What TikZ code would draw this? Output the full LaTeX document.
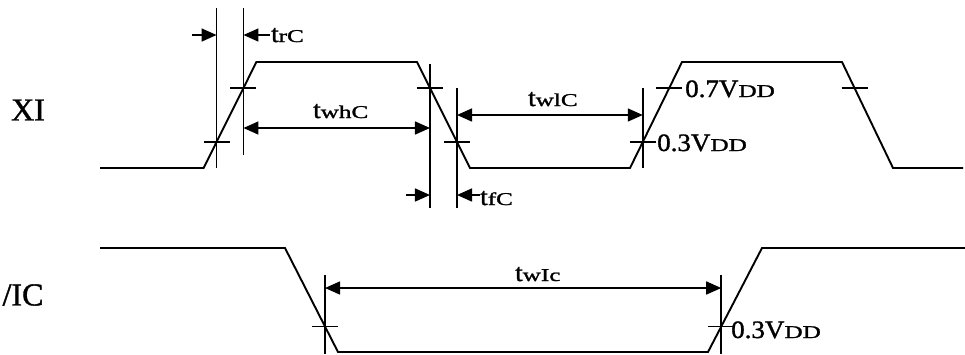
\documentclass[tikz,border=0pt]{standalone}
\usepackage{fontspec}
\setmainfont[FakeBold=1.2]{Liberation Serif}
\usepackage{graphicx}
\usetikzlibrary{arrows.meta,calc}
\newcommand{\tmain}[1]{\scalebox{1.08}[1]{\fontsize{25}{25}\selectfont #1}}
\newcommand{\tsubs}[1]{\scalebox{1.4}[1]{\fontsize{18}{18}\selectfont #1}}
\newcommand{\tlab}[2]{\tmain{#1}\tsubs{#2}}
\begin{document}
\begin{tikzpicture}[x=1pt,y=-1pt,
  wave/.style={line width=1.9pt, line join=miter},
  guide/.style={line width=1.6pt},
  tickm/.style={line width=1.6pt},
  dim/.style={line width=1.6pt, -{Triangle[length=15pt,width=13pt]}},
  dimboth/.style={line width=1.6pt, {Triangle[length=15pt,width=13pt]}-{Triangle[length=15pt,width=13pt]}},
  lab/.style={inner sep=0pt, anchor=base west},
  sig/.style={inner sep=0pt, font=\fontsize{32}{32}\selectfont}
]
\useasboundingbox (0,0) rectangle (965,354);

% ---------- XI waveform ----------
\coordinate (x0) at (100,168);
\coordinate (r1a) at (203.6,168);
\coordinate (r1b) at (256.4,62);
\coordinate (f1a) at (417,62);
\coordinate (f1b) at (470,168);
\coordinate (r2a) at (630,168);
\coordinate (r2b) at (682,62);
\coordinate (f2a) at (842,62);
\coordinate (f2b) at (893,168);
\coordinate (x1) at (963,168);
\draw[wave] (x0) -- (r1a) -- (r1b) -- (f1a) -- (f1b) -- (r2a) -- (r2b) -- (f2a) -- (f2b) -- (x1);

% threshold crossings
\coordinate (c1l) at ($(r1a)!0.245!(r1b)$);
\coordinate (c1h) at ($(r1a)!0.755!(r1b)$);
\coordinate (d1h) at ($(f1a)!0.245!(f1b)$);
\coordinate (d1l) at ($(f1a)!0.755!(f1b)$);
\coordinate (c2l) at ($(r2a)!0.245!(r2b)$);
\coordinate (c2h) at ($(r2a)!0.755!(r2b)$);
\coordinate (d2h) at ($(f2a)!0.245!(f2b)$);

% ---------- /IC waveform ----------
\coordinate (i0) at (100,248);
\coordinate (ifa) at (285,248);
\coordinate (ifb) at (338,352);
\coordinate (ira) at (708,352);
\coordinate (irb) at (762,248);
\coordinate (i1) at (965,248);
\draw[wave] (i0) -- (ifa) -- (ifb) -- (ira) -- (irb) -- (i1);
\coordinate (ifl) at ($(ifb)!0.245!(ifa)$);
\coordinate (irl) at ($(ira)!0.245!(irb)$);

% ---------- ticks ----------
\foreach \p in {c1l,c1h,d1h,d1l,c2l,c2h,d2h,ifl,irl}
  \draw[tickm] ([xshift=-13pt]\p) -- ([xshift=13pt]\p);

% ---------- guide lines ----------
\draw[guide] (c1l |- 0,8) -- (c1l |- 0,168);
\draw[guide] (c1h |- 0,8) -- (c1h |- 0,155);
\draw[guide] (d1h |- 0,64) -- (d1h |- 0,208);
\draw[guide] (d1l |- 0,88) -- (d1l |- 0,208);
\draw[guide] (c2l |- 0,88) -- (c2l |- 0,168);
\draw[guide] (ifl |- 0,275) -- (ifl |- 0,354);
\draw[guide] (irl |- 0,275) -- (irl |- 0,354);

% ---------- dimension arrows ----------
\coordinate (trl) at (192,35);
\coordinate (trr) at (270,35);
\draw[dim] (trl) -- (trl -| c1l);
\draw[dim] (trr) -- (trr -| c1h);
\coordinate (wh) at (0,128);
\draw[dimboth] (wh -| c1h) -- (wh -| d1h);
\coordinate (tfl) at (406,195);
\coordinate (tfr) at (480,195);
\draw[dim] (tfl) -- (tfl -| d1h);
\draw[dim] (tfr) -- (tfr -| d1l);
\coordinate (wl) at (0,115);
\draw[dimboth] (wl -| d1l) -- (wl -| c2l);
\coordinate (wi) at (0,288);
\draw[dimboth] (wi -| ifl) -- (wi -| irl);

% ---------- labels ----------
\node[sig] (lxi) at (28,110) {XI};
\node[sig] (lic) at (23,295) {/IC};
\node[lab] (ltr) at (271,42) {\tlab{t}{rC}};
\node[lab] (lwh) at (313,118) {\tlab{t}{whC}};
\node[lab] (lwl) at (528,106) {\tlab{t}{wlC}};
\node[lab] (ltf) at (480,205) {\tlab{t}{fC}};
\node[lab] (lwi) at (515,281) {\tlab{t}{wIc}};
\node[lab] (v7) at (685,97) {\tlab{0.7V}{DD}};
\node[lab] (v3a) at (657,151) {\tlab{0.3V}{DD}};
\node[lab] (v3b) at (731,338) {\tlab{0.3V}{DD}};
\end{tikzpicture}
\end{document}
